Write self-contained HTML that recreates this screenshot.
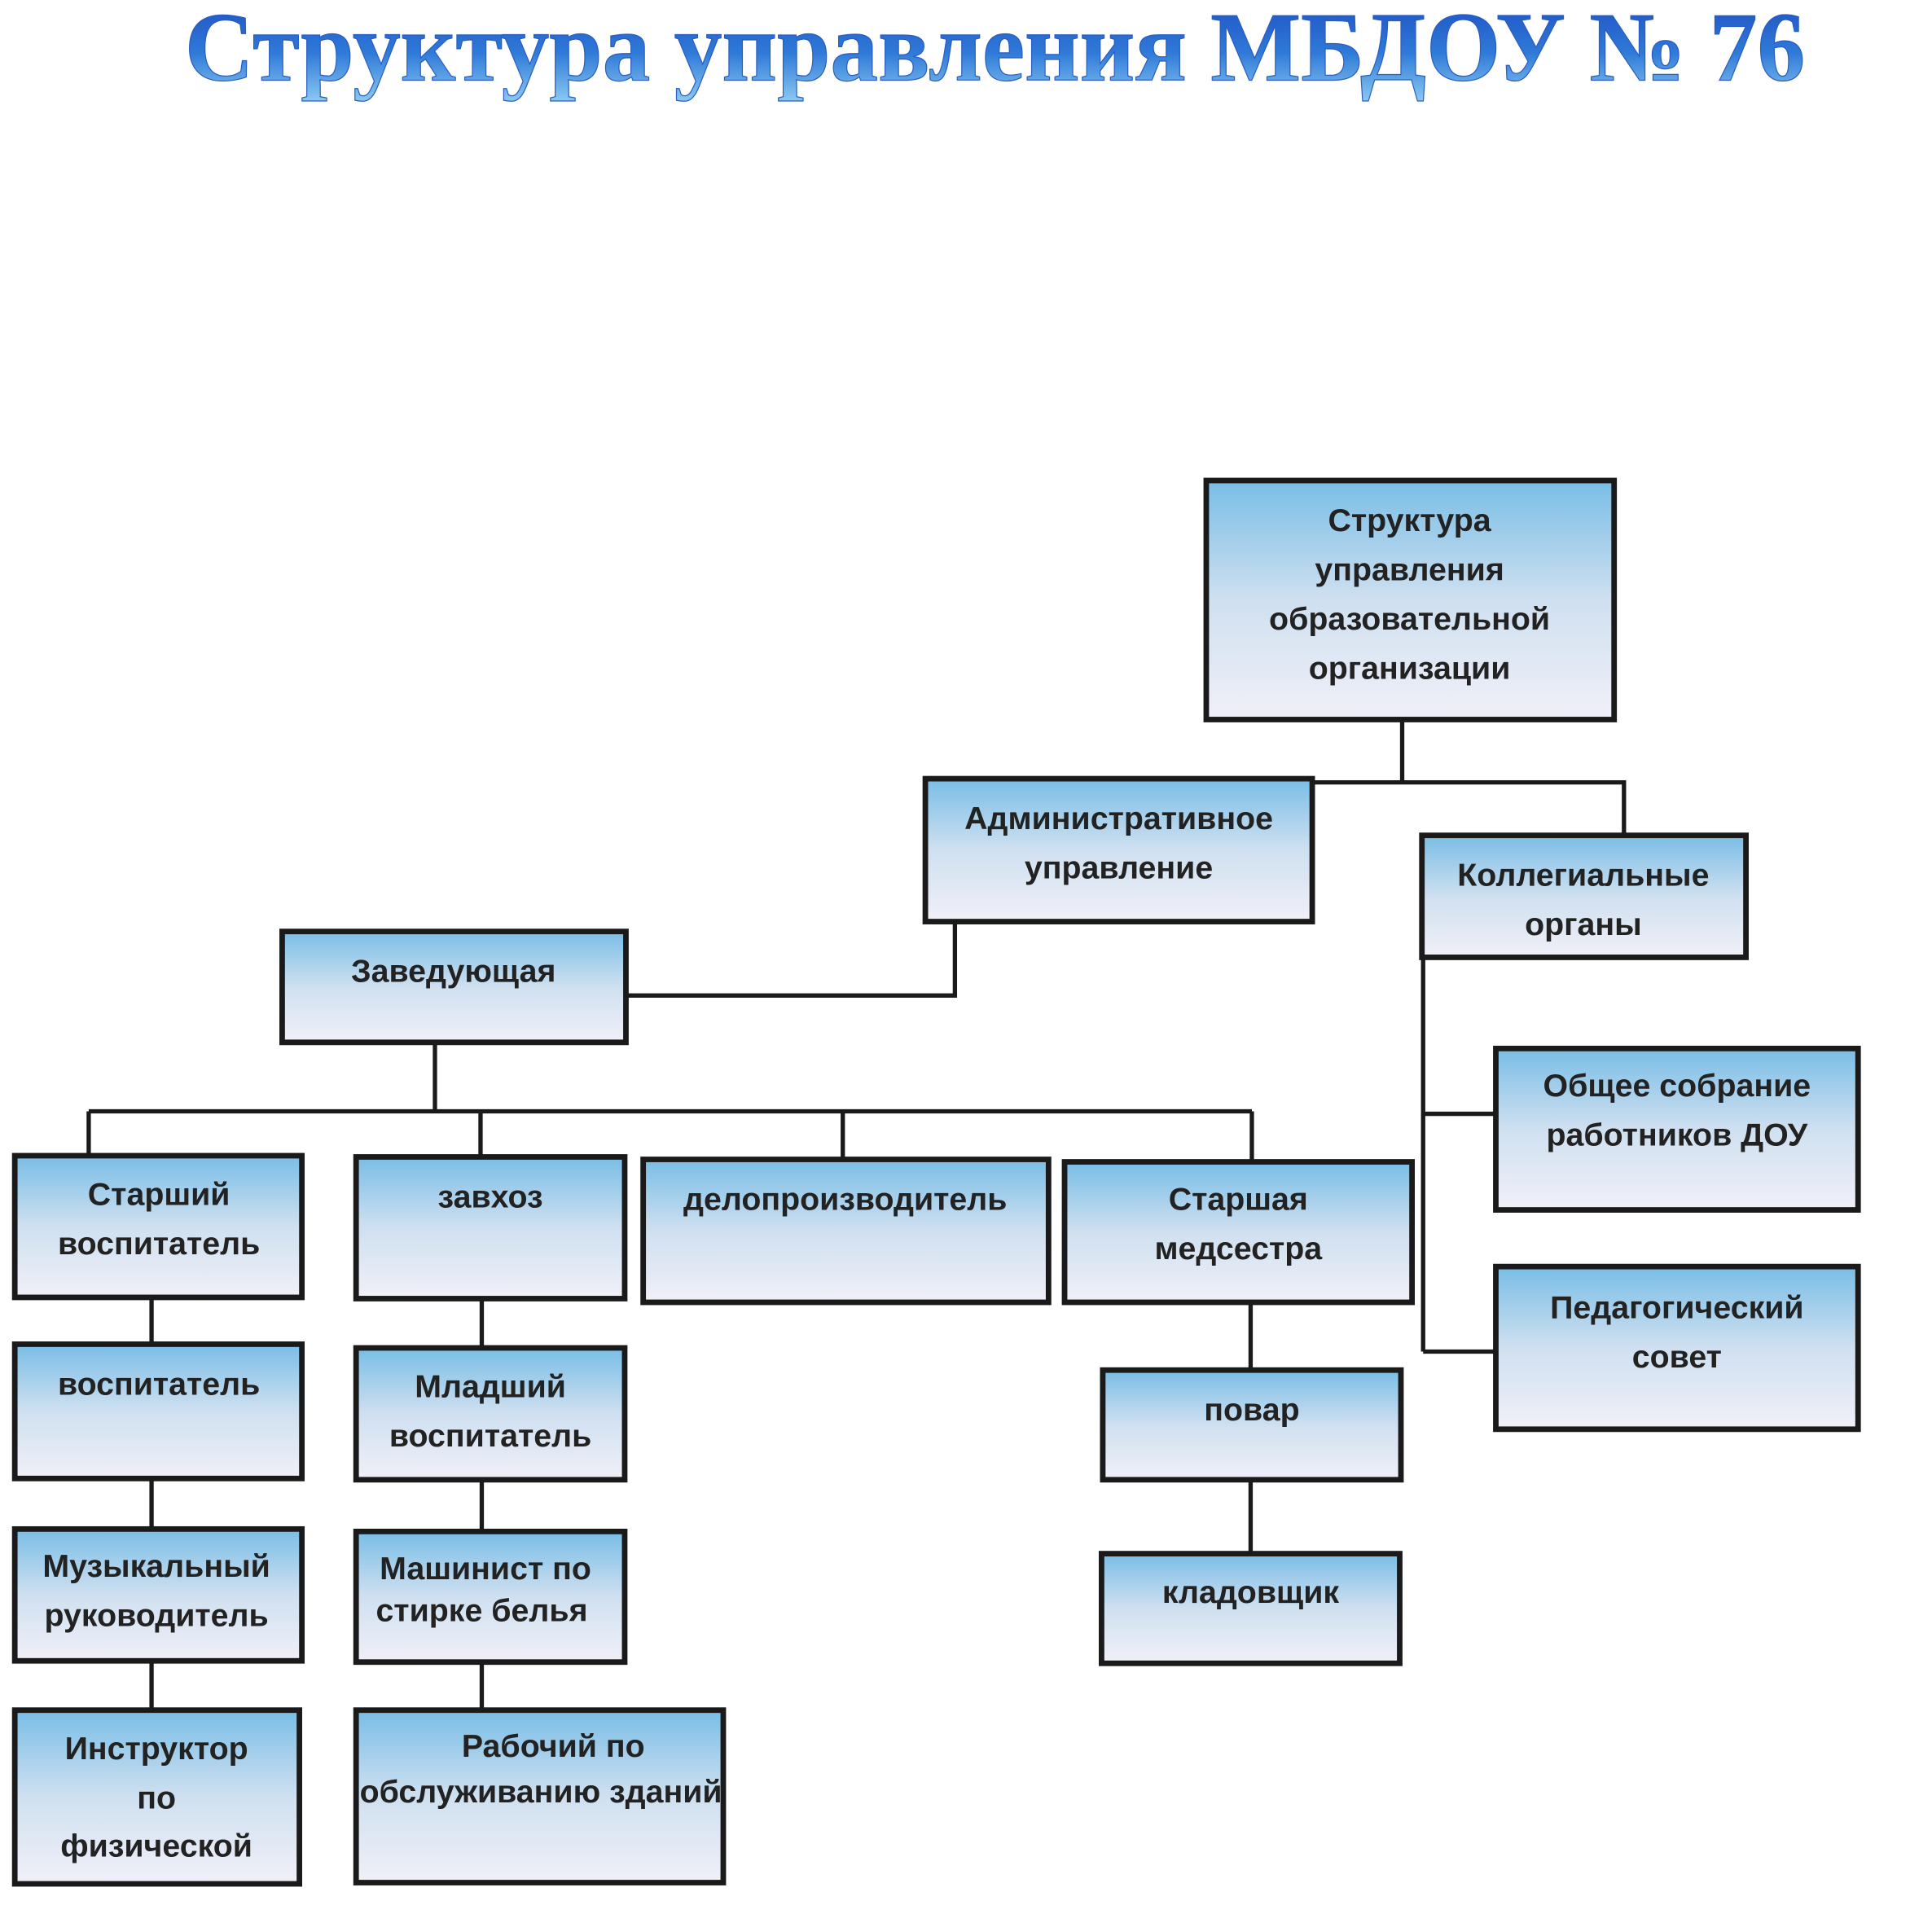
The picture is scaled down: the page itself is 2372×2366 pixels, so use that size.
<!DOCTYPE html>
<html><head><meta charset="utf-8"><style>html,body{margin:0;padding:0;background:#fff;}svg{display:block}</style></head>
<body>
<svg width="2372" height="2366" viewBox="0 0 1568 1564" xmlns="http://www.w3.org/2000/svg">
<defs>
<linearGradient id="bx" x1="0" y1="0" x2="0" y2="1">
<stop offset="0" stop-color="#79bde6"/><stop offset="0.5" stop-color="#cfe0f0"/><stop offset="1" stop-color="#f1f0f8"/>
</linearGradient>
<linearGradient id="tt" x1="0" y1="0" x2="0" y2="1">
<stop offset="0" stop-color="#1d4cc0"/><stop offset="0.55" stop-color="#2f7ad8"/><stop offset="1" stop-color="#8ccaf2"/>
</linearGradient>
</defs>
<rect width="1568" height="1564" fill="#fff"/>
<text x="150" y="65" font-family="Liberation Serif, serif" font-weight="bold" font-size="80" fill="url(#tt)" stroke="#2a5cc0" stroke-width="0.8" textLength="1315" lengthAdjust="spacingAndGlyphs">Структура управления МБДОУ № 76</text>

<g stroke="#1a1a1a" stroke-width="3.5" fill="none">
<path d="M1138 584V635M1065 635H1318V678"/>
<path d="M775 748V808H508"/>
<path d="M353 846V902M72 902H1016M72 902V938M390 902V939M684 902V941M1016 902V943"/>
<path d="M1155 777V1097M1155 904H1214M1155 1097H1214"/>
<path d="M123 1053V1091M123 1200V1241M123 1348V1388"/>
<path d="M391 1054V1094M391 1201V1243M391 1349V1388"/>
<path d="M1015 1057V1112M1015 1201V1261"/>
</g>

<g stroke="#1a1a1a" stroke-width="4.5" fill="url(#bx)">
<rect x="979" y="390" width="331" height="194"/>
<rect x="751" y="632" width="314" height="116"/>
<rect x="1154" y="678" width="263" height="99"/>
<rect x="229" y="756" width="279" height="90"/>
<rect x="12" y="938" width="233" height="115"/>
<rect x="289" y="939" width="218" height="115"/>
<rect x="522" y="941" width="329" height="116"/>
<rect x="864" y="943" width="282" height="114"/>
<rect x="1214" y="851" width="294" height="131"/>
<rect x="1214" y="1028" width="294" height="132"/>
<rect x="12" y="1091" width="233" height="109"/>
<rect x="289" y="1094" width="218" height="107"/>
<rect x="895" y="1112" width="242" height="89"/>
<rect x="12" y="1241" width="233" height="107"/>
<rect x="289" y="1243" width="218" height="106"/>
<rect x="894" y="1261" width="242" height="89"/>
<rect x="12" y="1388" width="231" height="141"/>
<rect x="289" y="1388" width="298" height="140"/>
</g>

<g font-family="Liberation Sans Narrow, Liberation Sans, sans-serif" font-weight="bold" font-size="26" fill="#222" text-anchor="middle" dominant-baseline="middle">
<text x="1144" y="424">Структура</text>
<text x="1144" y="464">управления</text>
<text x="1144" y="504">образовательной</text>
<text x="1144" y="544">организации</text>
<text x="908" y="666">Административное</text>
<text x="908" y="706">управление</text>
<text x="1285" y="712">Коллегиальные</text>
<text x="1285" y="752">органы</text>
<text x="368" y="790">Заведующая</text>
<text x="129" y="971">Старший</text>
<text x="129" y="1011">воспитатель</text>
<text x="398" y="973">завхоз</text>
<text x="686" y="975">делопроизводитель</text>
<text x="1005" y="975">Старшая</text>
<text x="1005" y="1015">медсестра</text>
<text x="1361" y="883">Общее собрание</text>
<text x="1361" y="923">работников ДОУ</text>
<text x="1361" y="1063">Педагогический</text>
<text x="1361" y="1103">совет</text>
<text x="129" y="1125">воспитатель</text>
<text x="398" y="1127">Младший</text>
<text x="398" y="1167">воспитатель</text>
<text x="1016" y="1146">повар</text>
<text x="127" y="1273">Музыкальный</text>
<text x="127" y="1313">руководитель</text>
<text x="394" y="1275">Машинист по</text>
<text x="391" y="1309">стирке белья</text>
<text x="1015" y="1294">кладовщик</text>
<text x="127" y="1421">Инструктор</text>
<text x="127" y="1461">по</text>
<text x="127" y="1500">физической</text>
<text x="449" y="1419">Рабочий по</text>
<text x="439" y="1456">обслуживанию зданий</text>
</g>
</svg>
</body></html>
